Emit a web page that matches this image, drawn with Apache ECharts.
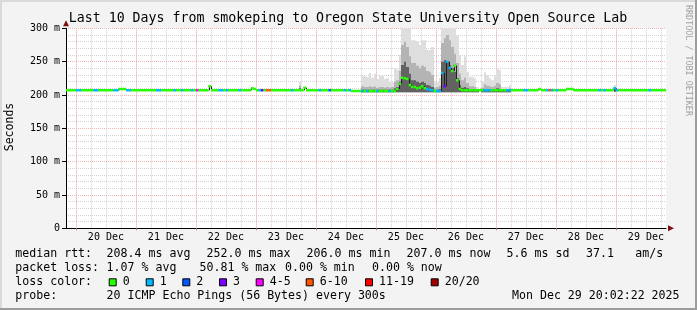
<!DOCTYPE html>
<html><head><meta charset="utf-8">
<script src="https://cdn.jsdelivr.net/npm/echarts@6/dist/echarts.min.js"></script>
<style>html,body{margin:0;padding:0;background:#f3f3f3}#c{width:697px;height:310px}</style>
</head><body><div id="c"></div>
<script>
// ---- data (hourly bins starting Dec 19 20:02) ----
const dayLabels = ['20 Dec','21 Dec','22 Dec','23 Dec','24 Dec','25 Dec','26 Dec','27 Dec','28 Dec','29 Dec'];
const yTickLabels = ['0','50 m','100 m','150 m','200 m','250 m','300 m'];

const median = [
 207,207,207,207,207,207,207,207,207,207,207,207,207,207,207,207,207,207,207,207,207,209,209,209,
 207,207,207,207,207,207,207,207,207,207,207,207,207,207,207,207,207,207,207,207,207,207,207,207,
 207,207,207,207,207,207,207,207,207,213,207,207,207,207,207,207,207,207,207,207,207,207,207,207,
 207,207,210,209,207,207,207,207,207,207,207,207,207,207,207,207,207,207,207,207,207,207,207,211,
 207,207,207,207,207,207,207,207,207,207,207,207,207,207,207,207,207,207,206,206,206,206,206,206,
 206,206,206,206,206,206,206,206,206,206,206,206,209,217,226,225,224,215,212,212,210,211,213,210,
 209,208,207,206,206,206,233,213,250,241,236,244,222,209,207,207,207,207,207,207,207,207,207,207,
 207,207,207,207,207,207,207,207,207,207,207,207,207,207,207,207,207,207,207,207,207,209,207,207,
 207,207,207,207,207,207,207,207,209,209,209,207,207,207,207,207,207,207,207,207,207,207,207,207,
 207,207,207,210,207,207,207,207,207,207,207,207,207,207,207,207,207,207,207,207,207,207,207,207
];
const loss = [
 0,0,0,0,1,1,0,0,0,0,0,1,1,0,0,0,0,0,0,1,1,0,0,0,
 1,1,0,0,0,0,0,0,0,0,0,0,1,1,0,0,0,0,0,1,0,0,1,0,
 0,0,1,0,4,0,0,0,0,0,0,0,0,1,1,0,1,0,0,0,0,1,0,0,
 0,0,0,0,0,1,3,0,10,10,0,0,0,0,0,0,0,0,1,0,0,0,0,0,
 0,0,0,0,0,1,0,0,0,2,0,0,0,0,0,1,0,1,0,0,0,0,1,0,
 1,0,0,0,1,0,0,0,0,1,0,0,0,0,0,0,0,0,0,0,0,0,0,0,
 1,1,1,0,1,1,1,3,1,1,0,0,0,0,0,0,0,0,0,0,0,0,0,1,
 1,1,0,0,0,0,0,0,1,1,0,0,0,0,0,1,1,0,0,0,0,0,0,0,
 1,8,1,0,1,0,0,0,0,0,0,0,0,0,0,0,0,0,0,0,0,1,0,1,
 0,0,0,1,1,0,0,0,0,0,0,0,0,0,0,0,0,1,0,0,0,0,0,0
];
const smokeHour = [93,
 118,119,120,121,122,123,124,125,126,127,128,129,130,131,132,133,134,135,136,137,138,139,140,141,
 142,143,144,145,146,147,148,149,150,151,152,153,154,155,156,157,158,159,160,161,162,163,164,
 166,167,168,169,170,171,172,173,174,175,176,177,219];
const smokeMin = [206,
 204,204,204,204,204,204,204,204,204,204,204,204,204,204,204,204,204,204,204,204,204,204,204,204,
 204,204,204,204,204,204,204,204,204,204,204,204,204,204,204,204,204,204,204,204,204,204,204,
 204,204,204,204,204,204,204,204,204,204,204,204,205];
const smokeMax = [220,
 229,228,227,233,226,232,224,230,229,224,225,219,219,240,238,260,300,300,300,300,282,282,280,275,
 282,282,268,267,272,220,219,225,300,300,300,300,300,300,290,260,245,258,235,227,227,225,212,
 220,234,230,225,222,230,239,237,212,212,212,215,215];
const smokeMid = [214,
 213,212,212,213,212,213,211,212,212,211,212,211,212,220,222,236,275,280,272,258,248,248,244,240,
 244,242,236,234,230,211,212,214,278,285,290,282,272,262,248,232,222,226,218,213,213,212,209,
 211,216,214,213,212,214,218,216,209,209,209,210,211];
const smokeDark = [210,
 208,208,208,208,208,208,208,208,208,208,208,208,208,210,212,220,245,250,242,232,222,222,220,218,
 220,218,215,214,212,207,208,209,250,252,250,245,240,235,225,215,211,212,210,208,208,208,207,
 208,209,209,208,208,209,210,209,207,207,207,208,209];

const lossLegend = ['0','1','2','3','4-5','6-10','11-19','20/20'];
const lossColors = ['#26ff00','#00b8ff','#0059ff','#7e00ff','#ff00ff','#ff5500','#ff0000','#a10000'];
function lossClass(n){ if(n<=3) return n; if(n<=5) return 4; if(n<=10) return 5; if(n<=19) return 6; return 7; }

const MONO = '"DejaVu Sans Mono", monospace';
const chart = echarts.init(document.getElementById('c'));

const smokeData = smokeHour.map((h,i)=>[h, smokeMin[i], smokeMax[i], smokeMid[i], smokeDark[i]]);
const medianData = median.map((m,i)=>[i, m, loss[i]]);

function renderSmoke(params, api){
  const h = api.value(0), lo = api.value(1);
  const x0 = Math.round(api.coord([h,0])[0]), x1 = Math.round(api.coord([h+1,0])[0]);
  const yLo = api.coord([h,lo])[1];
  const band = (top, color) => {
    const yt = api.coord([h, top])[1];
    return {type:'rect', shape:{x:x0, y:yt, width:x1-x0, height:yLo-yt}, style:{fill:color}};
  };
  return {type:'group', children:[band(api.value(2),'#dedede'), band(api.value(3),'#b4b4b4'), band(api.value(4),'#626262')]};
}
// thin dark median step line (drawn under the coloured loss segments)
function renderMedianDark(params, api){
  const i = params.dataIndex;
  const h = api.value(0), m = api.value(1);
  const p0 = api.coord([h,m]), p1 = api.coord([h+1,m]);
  const kids = [{type:'line', shape:{x1:p0[0], y1:p0[1], x2:p1[0], y2:p1[1]}, style:{stroke:'#202020', lineWidth:1}}];
  if (i>0 && median[i-1]!==m){
    const pp = api.coord([h, median[i-1]]);
    kids.push({type:'line', shape:{x1:Math.round(p0[0])+0.5, y1:pp[1], x2:Math.round(p0[0])+0.5, y2:p0[1]}, style:{stroke:'#202020', lineWidth:1}});
  }
  return {type:'group', children:kids};
}
function renderMedian(params, api){
  const h = api.value(0), m = api.value(1), l = api.value(2);
  const p0 = api.coord([h,m]), p1 = api.coord([h+1,m]);
  return {type:'line', shape:{x1:p0[0], y1:p0[1], x2:p1[0], y2:p1[1]}, style:{stroke:lossColors[lossClass(l)], lineWidth:2.5}};
}

// legend / text layout
const line1 = [['median rtt:',15.3],['208.4 ms avg',106.6],['252.0 ms max',206.6],['206.0 ms min',306.6],['207.0 ms now',406.6],['5.6 ms sd',506.6],['37.1',586],['am/s',635.3]];
const line2 = [['packet loss:',15.3],['1.07 % avg',106.6],['50.81 % max',199.5],['0.00 % min',285],['0.00 % now',372]];
const line4 = [['probe:',15.3],['20 ICMP Echo Pings (56 Bytes) every 300s',106.6],['Mon Dec 29 20:02:22 2025',512]];
const boxX = [108.7,145.7,182.3,219,255.7,305.7,365,430.7];
const LF = '11.6px ' + MONO;
const graphics = [];
function txt(t,x,y,font,fill,extra){ graphics.push(Object.assign({type:'text', x:x, y:y, silent:true, style:{text:t, x:0, y:0, font:font, fill:fill||'#000', align:'left', verticalAlign:'middle'}}, extra||{})); }
line1.forEach(s=>txt(s[0],s[1],253.8,LF));
line2.forEach(s=>txt(s[0],s[1],268,LF));
txt('loss color:',15.3,282,LF);
boxX.forEach((bx,i)=>{
  graphics.push({type:'rect', silent:true, shape:{x:bx+0.5,y:278.8,width:7,height:7}, style:{fill:lossColors[i], stroke:'#000', lineWidth:1}});
  txt(lossLegend[i], bx+14, 282, LF);
});
line4.forEach(s=>txt(s[0],s[1],296,LF));
// title, axis name, watermark
graphics.push({type:'text', x:348, y:18.7, silent:true, style:{text:'Last 10 Days from smokeping to Oregon State University Open Source Lab', x:0, y:0, font:'13.25px '+MONO, fill:'#000', align:'center', verticalAlign:'middle'}});
graphics.push({type:'text', x:10, y:127, rotation:Math.PI/2, silent:true, style:{text:'Seconds', x:0, y:0, font:'11.5px '+MONO, fill:'#000', align:'center', verticalAlign:'middle'}});
graphics.push({type:'text', x:688.5, y:5, rotation:-Math.PI/2, silent:true, style:{text:'RRDTOOL / TOBI OETIKER', x:0, y:0, font:'8.4px '+MONO, fill:'#a0a0a0', align:'left', verticalAlign:'middle'}});
// frame
graphics.push({type:'rect', silent:true, shape:{x:0,y:0,width:697,height:2}, style:{fill:'#dadada'}});
graphics.push({type:'rect', silent:true, shape:{x:0,y:0,width:2,height:310}, style:{fill:'#dadada'}});
graphics.push({type:'rect', silent:true, shape:{x:695,y:0,width:2,height:310}, style:{fill:'#9c9c9c'}});
graphics.push({type:'rect', silent:true, shape:{x:0,y:308,width:697,height:2}, style:{fill:'#9c9c9c'}});

const TOP = 28.3, BOT = 81.7, L = 66, PX = 2.5; // 2.5 px per hour
const dayStart = 3.9667; // Dec 20 00:00 in hours from left edge
const hidden = {show:false};
const dot = (c)=>({lineStyle:{color:c, width:1, type:[1,1]}});
const RED = '#f2b4b4', GRAY = '#d2d2d2';

const option = {
  animation:false,
  backgroundColor:'#f3f3f3',
  grid:[
    {left:L, right:697-(L+240*PX), top:TOP, bottom:BOT, show:true, backgroundColor:'#ffffff', borderWidth:0, z:-1},
    {left:L+dayStart*PX, right:697-(L+(dayStart+234)*PX), top:TOP, bottom:BOT},
    {left:L+dayStart*PX, right:697-(L+(dayStart+216)*PX), top:TOP, bottom:BOT},
    {left:L+(dayStart+12)*PX, right:697-(L+(dayStart+228)*PX), top:TOP, bottom:BOT}
  ],
  xAxis:[
    {gridIndex:0, type:'value', min:0, max:240, axisLine:{show:true, lineStyle:{color:'#000', width:1}}, axisTick:hidden, axisLabel:hidden, splitLine:hidden},
    {gridIndex:1, type:'value', min:0, max:234, interval:6, axisLine:hidden, axisTick:hidden, axisLabel:hidden, splitLine:Object.assign({show:true}, dot(GRAY))},
    {gridIndex:2, type:'value', min:0, max:216, interval:24, axisLine:hidden, axisTick:{show:true, length:2, lineStyle:{color:'#d08080'}}, axisLabel:hidden, splitLine:Object.assign({show:true}, dot(RED))},
    {gridIndex:3, type:'value', min:0, max:216, interval:24, axisLine:hidden, axisTick:hidden, splitLine:hidden,
      axisLabel:{show:true, margin:4, color:'#000', fontFamily:MONO, fontSize:10, showMinLabel:true, showMaxLabel:true, formatter:(v)=>dayLabels[Math.round(v/24)]}},
    {gridIndex:0, type:'value', min:0, max:240, axisLine:{show:true, symbol:['none','triangle'], symbolSize:[6,6], symbolOffset:[0,5], lineStyle:{color:'#7f1010', width:0}}, axisTick:hidden, axisLabel:hidden, splitLine:hidden}
  ],
  yAxis:[
    {gridIndex:0, type:'value', min:0, max:300, interval:50,
      axisLine:{show:true, lineStyle:{color:'#000', width:1}},
      axisTick:{show:true, length:4, lineStyle:{color:'#000'}},
      axisLabel:{show:true, margin:6, color:'#000', fontFamily:MONO, fontSize:10, formatter:(v)=>yTickLabels[Math.round(v/50)]},
      splitLine:Object.assign({show:true}, dot(RED)),
      minorTick:{show:false, splitNumber:5},
      minorSplitLine:Object.assign({show:true}, dot(GRAY))},
    {gridIndex:0, type:'value', min:0, max:300, axisLine:{show:true, symbol:['none','triangle'], symbolSize:[6,6], symbolOffset:[0,5], lineStyle:{color:'#7f1010', width:0}}, axisTick:hidden, axisLabel:hidden, splitLine:hidden},
    {gridIndex:1, show:false, min:0, max:300},
    {gridIndex:2, show:false, min:0, max:300},
    {gridIndex:3, show:false, min:0, max:300}
  ],
  series:[
    {type:'custom', xAxisIndex:0, yAxisIndex:0, clip:true, renderItem:renderSmoke, data:smokeData, encode:{x:0, y:[1,2]}, z:2},
    {type:'custom', xAxisIndex:0, yAxisIndex:0, clip:true, renderItem:renderMedianDark, data:medianData, encode:{x:0, y:1}, z:3},
    {type:'custom', xAxisIndex:0, yAxisIndex:0, clip:true, renderItem:renderMedian, data:medianData, encode:{x:0, y:1}, z:4}
  ],
  graphic:graphics
};
chart.setOption(option);
</script></body></html>
